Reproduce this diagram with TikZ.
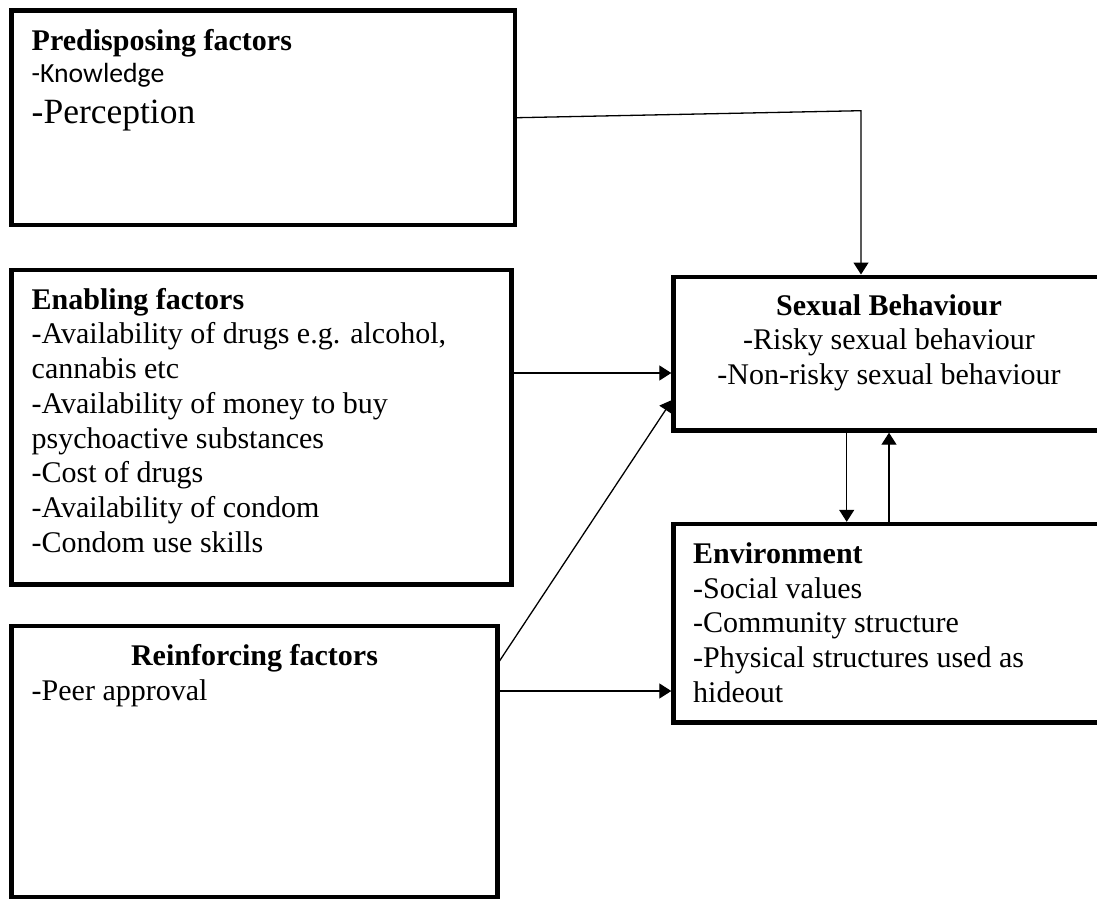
\documentclass[tikz,border=0pt]{standalone}
\usepackage{fontspec}
\setmainfont{Liberation Serif}
\newfontfamily\calibrifont{Carlito}
\usetikzlibrary{arrows.meta}

\newcommand\tstrut{\rule{0pt}{24pt}}

\begin{document}
\begin{tikzpicture}[x=1pt,y=-1pt,
    box/.style={draw, rectangle, line width=4.4pt, outer sep=0pt, inner sep=0pt},
    txt/.style={inner sep=0pt, font=\fontsize{30}{34.7}\selectfont},
    arr/.style={-{Triangle[width=15pt,length=12pt]}, line width=1.3pt, shorten >=2.2pt}]
    \clip (0,0) rectangle (1097,899);
    \fill[white] (0,0) rectangle (1097,899);

    % boxes
    \node[box, minimum width=503.5pt, minimum height=214.5pt] (pre) at (263.25,117.75) {};
    \node[box, minimum width=500pt, minimum height=314.5pt] (en) at (261.5,427.25) {};
    \node[box, minimum width=486pt, minimum height=271pt] (re) at (254.5,761.5) {};
    \node[box, minimum width=431pt, minimum height=153.8pt] (sb) at (889,353.6) {};
    \node[box, minimum width=431pt, minimum height=198.5pt] (env) at (889,623.25) {};

    % texts
    \node[txt, anchor=base west] (pre-hd) at (31.5,50.7) {\textbf{Predisposing factors}};
    \node[txt, anchor=base west, font=\calibrifont\fontsize{27.7}{32}\selectfont] (pre-kn) at (31.5,82.8) {-Knowledge};
    \node[txt, anchor=base west, font=\fontsize{35.5}{40}\selectfont] (pre-pc) at (31.5,123) {-Perception};

    \node[txt, anchor=north west, align=left] (en-tx) at (31.5,285) {\tstrut\textbf{Enabling factors}\\
        -Availability of drugs e.g. alcohol,\\
        cannabis etc\\
        -Availability of money to buy\\
        psychoactive substances\\
        -Cost of drugs\\
        -Availability of condom\\
        -Condom use skills};

    \node[txt, anchor=base] (re-hd) at (254.5,665) {\textbf{Reinforcing factors}};
    \node[txt, anchor=base west] (re-tx) at (31.5,700.5) {-Peer approval};

    \node[txt, anchor=north, align=center] (sb-tx) at (889,291) {\tstrut\textbf{Sexual Behaviour}\\
        -Risky sexual behaviour\\
        -Non-risky sexual behaviour};

    \node[txt, anchor=north west, align=left] (env-tx) at (693,539.3) {\tstrut\textbf{Environment}\\
        -Social values\\
        -Community structure\\
        -Physical structures used as\\
        hideout};

    % connectors
    \coordinate (bend) at (861,110.7);
    \coordinate (en-out) at (511.5,373);
    \coordinate (re-up) at (497.5,664);
    \coordinate (sb-in) at (673.5,398);
    \coordinate (re-out) at (497.5,691);
    \coordinate (sb-dn) at (846.7,430.5);

    \draw[arr] (pre.east) -- (bend) -- (bend |- sb.north);
    \draw[arr] (en-out) -- (en-out -| sb.west);
    \draw[arr] (re-up) -- (sb-in);
    \draw[arr] (re-out) -- (re-out -| env.west);
    \draw[arr] (sb-dn) -- (sb-dn |- env.north);
    \draw[arr] (env.north) -- (sb.south);
\end{tikzpicture}
\end{document}
